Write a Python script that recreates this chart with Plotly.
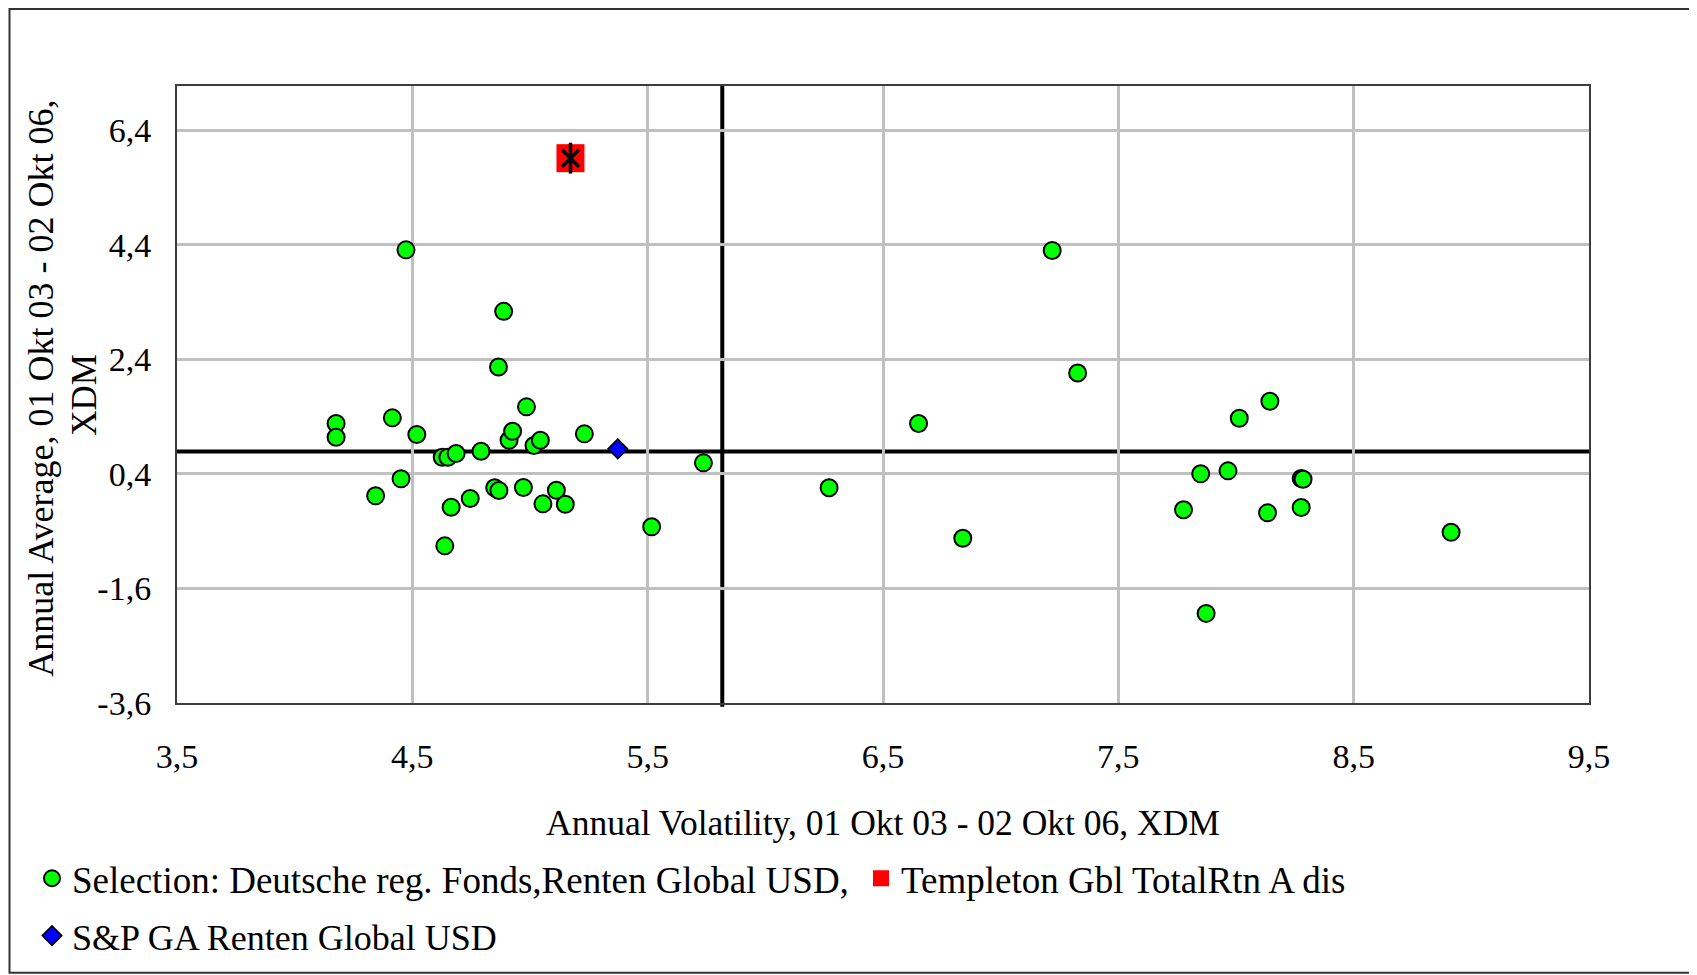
import plotly.graph_objects as go

# ---- data ----
sel_name = "Selection: Deutsche reg. Fonds,Renten Global USD,"
sel_vol = [4.176, 4.176, 4.415, 4.473, 4.519, 4.344, 4.452, 4.627, 4.651, 4.686,
           4.665, 4.746, 4.638, 4.792, 4.888, 4.866, 4.911, 4.926, 4.985, 5.017,
           5.044, 4.850, 4.868, 4.972, 5.055, 5.112, 5.150, 5.231, 5.517, 5.737,
           6.271, 6.651, 6.839, 7.219, 7.327, 7.777, 7.850, 7.966, 7.873, 8.014,
           8.144, 8.134, 8.277, 8.285, 8.277, 8.914]
sel_ret = [1.278, 1.040, 1.377, 4.310, 1.086, 0.016, 0.313, 0.690, 0.690, 0.754,
           -0.183, -0.031, -0.857, 0.794, 3.236, 2.264, 0.986, 1.143, 1.569, 0.894,
           0.986, 0.156, 0.109, 0.161, -0.124, 0.114, -0.130, 1.098, -0.525, 0.592,
           0.156, 1.278, -0.724, 4.300, 2.161, -0.228, 0.400, 0.452, -2.036, 1.370,
           1.667, -0.281, 0.318, 0.306, -0.188, -0.619]

fund_name = "Templeton Gbl TotalRtn A dis"
fund_vol = [5.172]
fund_ret = [5.91]

bench_name = "S&P GA Renten Global USD"
bench_vol = [5.373]
bench_ret = [0.836]

avg_vol = 5.817
avg_ret = 0.79

x_range = [3.5, 9.5]
y_range = [-3.6, 7.17]
x_ticks = [3.5, 4.5, 5.5, 6.5, 7.5, 8.5, 9.5]
x_tick_labels = ["3,5", "4,5", "5,5", "6,5", "7,5", "8,5", "9,5"]
y_ticks = [-3.6, -1.6, 0.4, 2.4, 4.4, 6.4]
y_tick_labels = ["-3,6", "-1,6", "0,4", "2,4", "4,4", "6,4"]

x_title = "Annual Volatility, 01 Okt 03 - 02 Okt 06, XDM"
y_title_line1 = "Annual Average, 01 Okt 03 - 02 Okt 06,"
y_title_line2 = "XDM"

FONT = "Liberation Serif, Times New Roman, serif"

fig = go.Figure()

fig.add_trace(go.Scatter(
    x=sel_vol, y=sel_ret, mode="markers", name=sel_name, legend="legend",
    marker=dict(symbol="circle", size=17, color="#00ff00",
                line=dict(color="black", width=2)),
))
fig.add_trace(go.Scatter(
    x=fund_vol, y=fund_ret, mode="markers", name=fund_name, legend="legend3",
    legendgroup="fund",
    marker=dict(symbol="square", size=28, color="#ff0000",
                line=dict(width=0)),
))
fig.add_trace(go.Scatter(
    x=fund_vol, y=fund_ret, mode="markers", name=fund_name, showlegend=False,
    legendgroup="fund",
    marker=dict(symbol="x-thin-open", size=17, color="black",
                line=dict(color="black", width=3.5)),
))
fig.add_trace(go.Scatter(
    x=fund_vol, y=fund_ret, mode="markers", name=fund_name, showlegend=False,
    legendgroup="fund",
    marker=dict(symbol="line-ns-open", size=22, color="black",
                line=dict(color="black", width=3.5)),
))
fig.add_trace(go.Scatter(
    x=bench_vol, y=bench_ret, mode="markers", name=bench_name, legend="legend2",
    marker=dict(symbol="diamond", size=15, color="#0000ff",
                line=dict(color="black", width=1.5)),
))

# average cross lines
fig.add_shape(type="line", xref="x", yref="paper", x0=avg_vol, x1=avg_vol,
              y0=-0.006, y1=1, line=dict(color="black", width=4), layer="between")
fig.add_shape(type="line", xref="paper", yref="y", x0=0, x1=1,
              y0=avg_ret, y1=avg_ret, line=dict(color="black", width=4), layer="between")

# page layout (page pixels; the html body adds an 8px offset)
OFF = 8
FW, FH = 1697, 975
L, R, T, B = 177 - OFF, 1589 - OFF, 86.3 - OFF, 703.3 - OFF
W, H = R - L, B - T


def px(v):
    return (v - OFF - L) / W


def py(v):
    return (B - (v - OFF)) / H


fig.add_shape(type="rect", xref="paper", yref="paper",
              x0=px(9.5), x1=px(1710), y0=py(973), y1=py(9.2),
              line=dict(color="#333333", width=2), fillcolor="rgba(0,0,0,0)")

fig.add_annotation(text=y_title_line1, xref="paper", yref="paper",
                   x=px(41), y=py(389), xanchor="center", yanchor="middle",
                   textangle=-90, showarrow=False,
                   font=dict(family=FONT, size=36, color="black"))
fig.add_annotation(text=y_title_line2, xref="paper", yref="paper",
                   x=px(85), y=py(395), xanchor="center", yanchor="middle",
                   textangle=-90, showarrow=False,
                   font=dict(family=FONT, size=35, color="black"))

legend_common = dict(orientation="h", xanchor="left", yanchor="middle",
                     bgcolor="rgba(0,0,0,0)", borderwidth=0)

fig.update_layout(
    width=FW, height=FH, autosize=False,
    margin=dict(l=L, r=FW - R, t=T, b=FH - B, pad=0),
    paper_bgcolor="white", plot_bgcolor="white",
    font=dict(family=FONT, size=34, color="black"),
    xaxis=dict(range=x_range, tickvals=x_ticks, ticktext=x_tick_labels,
               showgrid=True, gridcolor="#c0c0c0", gridwidth=2.5,
               zeroline=False, showline=True, linecolor="#3c3c3c", linewidth=2,
               mirror=True, ticks="outside", ticklen=22, tickcolor="rgba(0,0,0,0)",
               tickfont=dict(family=FONT, size=34, color="black"),
               title=dict(text=x_title, standoff=36,
                          font=dict(family=FONT, size=35.5, color="black"))),
    yaxis=dict(range=y_range, tickvals=y_ticks, ticktext=y_tick_labels,
               showgrid=True, gridcolor="#c0c0c0", gridwidth=2.5,
               zeroline=False, showline=True, linecolor="#3c3c3c", linewidth=2,
               mirror=True, ticks="outside", ticklen=17, tickcolor="rgba(0,0,0,0)",
               tickfont=dict(family=FONT, size=34, color="black")),
    legend=dict(x=px(32), y=py(879), font=dict(family=FONT, size=37, color="black"),
                **legend_common),
    legend3=dict(x=px(861), y=py(879), font=dict(family=FONT, size=37, color="black"),
                 **legend_common),
    legend2=dict(x=px(32), y=py(936), font=dict(family=FONT, size=36, color="black"),
                 **legend_common),
    showlegend=True,
)

fig.write_html("out.html")
